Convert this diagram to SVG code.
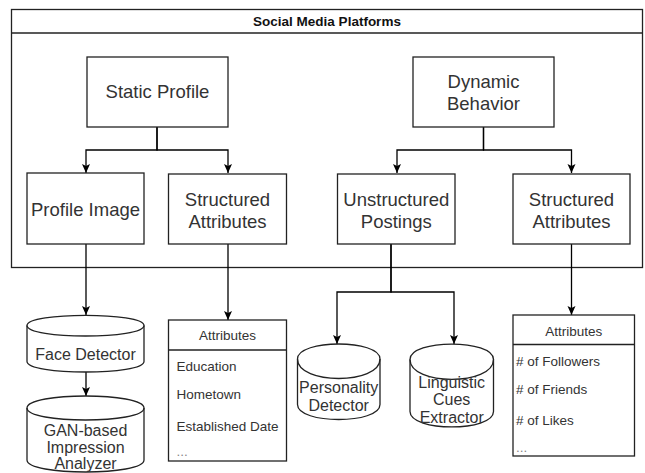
<svg xmlns="http://www.w3.org/2000/svg" width="645" height="473" viewBox="0 0 645 473">
<style>
  .box { fill: #ffffff; stroke: #222222; stroke-width: 1.3; }
  .ln { fill: none; stroke: #222222; stroke-width: 1.3; }
  .t { font-family: "Liberation Sans", Arial, sans-serif; fill: #333333; }
  .big { font-size: 18.5px; text-anchor: middle; }
  .cyl { font-size: 16px; text-anchor: middle; }
  .tbl { font-size: 13.5px; }
  .dots { fill: #888888; }
  .title { font-size: 13.5px; font-weight: bold; text-anchor: middle; fill: #111111; }
  .con { fill: none; stroke: #000000; stroke-width: 1.3; marker-end: url(#arr); }
</style>
<defs>
  <marker id="arr" markerUnits="userSpaceOnUse" markerWidth="10" markerHeight="10" refX="9" refY="5" orient="auto" viewBox="0 0 10 10">
    <path d="M0,1 L9,5 L0,9 L2,5 z" fill="#000000"/>
  </marker>
</defs>
<rect width="645" height="473" fill="#ffffff"/>

<g id="platforms">
  <rect class="box" x="11.5" y="9.5" width="631" height="258"/>
  <line class="ln" x1="11.5" y1="33" x2="642.5" y2="33"/>
  <text class="t title" x="327" y="26">Social Media Platforms</text>
</g>

<g id="connectors">
  <path class="con" d="M157,127 V150 H86 V173"/>
  <path class="con" d="M157,127 V150 H228 V173"/>
  <path class="con" d="M483.5,127 V150 H397 V173"/>
  <path class="con" d="M483.5,127 V150 H571.5 V173"/>
  <path class="con" d="M86,244 V315"/>
  <path class="con" d="M228,244 V320"/>
  <path class="con" d="M86,372 V396"/>
  <path class="con" d="M391,244 V292 H337 V344"/>
  <path class="con" d="M391,244 V292 H454 V344"/>
  <path class="con" d="M571.5,244 V315"/>
</g>

<g id="static-profile">
  <rect class="box" x="87" y="57" width="141" height="70"/>
  <text class="t big" x="157.5" y="98.3">Static Profile</text>
</g>

<g id="dynamic-behavior">
  <rect class="box" x="413" y="57" width="141" height="70"/>
  <text class="t big" x="483.5" y="88.3">Dynamic</text>
  <text class="t big" x="483.5" y="110">Behavior</text>
</g>

<g id="profile-image">
  <rect class="box" x="27" y="173" width="117" height="71"/>
  <text class="t big" x="85.5" y="216">Profile Image</text>
</g>

<g id="structured-attributes-1">
  <rect class="box" x="168.5" y="174" width="118" height="70"/>
  <text class="t big" x="227.5" y="206">Structured</text>
  <text class="t big" x="227.5" y="228.3">Attributes</text>
</g>

<g id="unstructured-postings">
  <rect class="box" x="337.5" y="174" width="117.5" height="70"/>
  <text class="t big" x="396.3" y="205.8">Unstructured</text>
  <text class="t big" x="396.3" y="227.5">Postings</text>
</g>

<g id="structured-attributes-2">
  <rect class="box" x="513" y="174" width="117" height="70"/>
  <text class="t big" x="571.5" y="206">Structured</text>
  <text class="t big" x="571.5" y="228.3">Attributes</text>
</g>

<g id="face-detector">
  <path class="box" d="M27,325.5 C27,312 144,312 144,325.5 L144,361.5 C144,375.5 27,375.5 27,361.5 Z"/>
  <path class="ln" d="M27,325.5 C27,339.5 144,339.5 144,325.5"/>
  <text class="t cyl" x="85.5" y="359.8">Face Detector</text>
</g>

<g id="gan-analyzer">
  <path class="box" d="M27,408 C27,392 144,392 144,408 L144,460 C144,476 27,476 27,460 Z"/>
  <path class="ln" d="M27,408 C27,424 144,424 144,408"/>
  <text class="t cyl" x="85.5" y="435.5">GAN-based</text>
  <text class="t cyl" x="85.5" y="452.5">Impression</text>
  <text class="t cyl" x="85.5" y="469">Analyzer</text>
</g>

<g id="attributes-table-1">
  <rect class="box" x="168.5" y="320" width="118" height="141"/>
  <line class="ln" x1="168.5" y1="350" x2="286.5" y2="350"/>
  <text class="t tbl" x="227.5" y="340" text-anchor="middle">Attributes</text>
  <text class="t tbl" x="176.5" y="370.6">Education</text>
  <text class="t tbl" x="176.5" y="399.2">Hometown</text>
  <text class="t tbl" x="176.5" y="431">Established Date</text>
  <text class="t tbl dots" x="176.5" y="456">...</text>
</g>

<g id="personality-detector">
  <path class="box" d="M297.5,359 C297.5,339 380,339 380,359 L380,404.5 C380,424.5 297.5,424.5 297.5,404.5 Z"/>
  <path class="ln" d="M297.5,359 C297.5,385 380,385 380,359"/>
  <text class="t cyl" x="338.7" y="392.5">Personality</text>
  <text class="t cyl" x="338.7" y="410.8">Detector</text>
</g>

<g id="linguistic-cues-extractor">
  <path class="box" d="M410,359.5 C410,339 493.5,339 493.5,359.5 L493.5,411.5 C493.5,432 410,432 410,411.5 Z"/>
  <path class="ln" d="M410,359.5 C410,386 493.5,386 493.5,359.5"/>
  <text class="t cyl" x="451.7" y="387.5">Linguistic</text>
  <text class="t cyl" x="451.7" y="404.8">Cues</text>
  <text class="t cyl" x="451.7" y="422.5">Extractor</text>
</g>

<g id="attributes-table-2">
  <rect class="box" x="513" y="315" width="121.5" height="141"/>
  <line class="ln" x1="513" y1="344.5" x2="634.5" y2="344.5"/>
  <text class="t tbl" x="573.7" y="336" text-anchor="middle">Attributes</text>
  <text class="t tbl" x="516" y="366"># of Followers</text>
  <text class="t tbl" x="516" y="394.2"># of Friends</text>
  <text class="t tbl" x="516" y="425"># of Likes</text>
  <text class="t tbl dots" x="516" y="452">...</text>
</g>
</svg>
